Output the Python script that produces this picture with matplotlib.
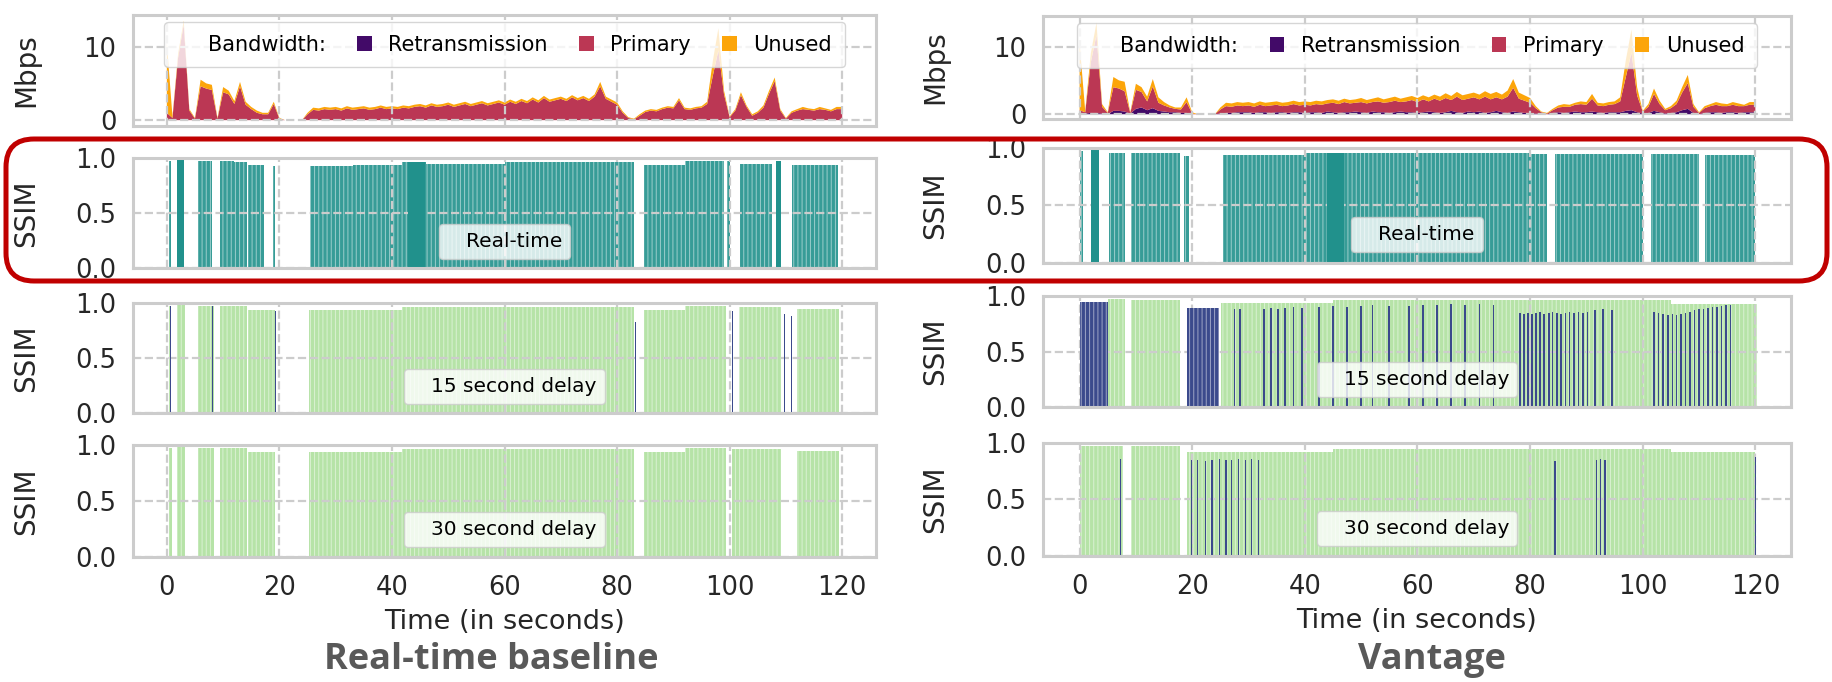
import matplotlib

matplotlib.use("Agg")
import matplotlib.pyplot as plt
import numpy as np
from matplotlib.colors import to_rgba
from matplotlib.patches import FancyBboxPatch, Patch

# ---- bandwidth traces, one value per second (t = 0 .. 120) ----
seconds = np.arange(0, 121)

capacity_mbps = [
    10.5, 0.5, 9.0, 13.5, 1.5, 0.3, 5.5, 5.0, 4.8, 0.3,
    4.5, 4.0, 2.6, 5.2, 2.5, 1.8, 1.3, 1.0, 1.0, 2.5,
    0.3, 0.0, 0.0, 0.0, 0.0, 1.0, 1.7, 1.6, 1.8, 1.7,
    1.8, 1.6, 1.9, 1.7, 1.8, 1.9, 1.7, 1.8, 2.0, 1.8,
    1.9, 1.8, 2.0, 1.9, 2.1, 2.2, 2.0, 2.3, 2.1, 2.2,
    2.4, 2.1, 2.3, 2.5, 2.2, 2.4, 2.6, 2.3, 2.5, 2.7,
    2.4, 2.8, 2.5, 2.9, 2.6, 3.1, 2.7, 3.3, 2.8, 3.0,
    3.2, 2.9, 3.4, 3.0, 3.3, 2.9, 3.5, 5.2, 3.2, 2.8,
    2.4, 1.2, 0.4, 0.2, 0.8, 1.3, 1.5, 1.4, 1.7, 1.9,
    1.8, 3.0, 1.7, 1.6, 1.8, 1.9, 2.5, 8.0, 12.5, 4.0,
    0.5, 1.5, 3.8, 2.0, 0.8, 1.2, 2.0, 4.0, 5.8, 1.5,
    0.3, 1.2, 1.5, 1.8, 1.6, 1.5, 1.8, 1.6, 1.4, 1.8,
    1.8,
]

baseline_primary_mbps = [
    1.0, 0.3, 8.5, 13.0, 1.3, 0.2, 4.6, 4.3, 4.1, 0.2,
    3.8, 3.5, 2.2, 4.6, 2.1, 1.5, 1.0, 0.8, 0.8, 2.2,
    0.2, 0.0, 0.0, 0.0, 0.0, 0.8, 1.4, 1.3, 1.5, 1.4,
    1.5, 1.3, 1.6, 1.4, 1.5, 1.6, 1.4, 1.5, 1.7, 1.5,
    1.6, 1.5, 1.7, 1.6, 1.8, 1.9, 1.7, 2.0, 1.8, 1.9,
    2.1, 1.8, 2.0, 2.2, 1.9, 2.1, 2.3, 2.0, 2.2, 2.4,
    2.1, 2.5, 2.2, 2.6, 2.3, 2.8, 2.4, 3.0, 2.5, 2.7,
    2.9, 2.6, 3.1, 2.7, 3.0, 2.6, 3.2, 4.6, 2.9, 2.5,
    2.1, 1.0, 0.3, 0.1, 0.6, 1.1, 1.3, 1.2, 1.5, 1.7,
    1.6, 2.7, 1.5, 1.4, 1.6, 1.7, 2.2, 6.0, 9.5, 3.5,
    0.4, 1.3, 3.4, 1.8, 0.6, 1.0, 1.7, 3.6, 5.3, 1.3,
    0.2, 1.0, 1.3, 1.5, 1.4, 1.3, 1.5, 1.4, 1.2, 1.5,
    1.5,
]

vantage_retrans_mbps = [
    0.1, 0.1, 0.2, 0.2, 0.1, 0.0, 0.5, 0.5, 0.4, 0.1,
    0.8, 1.0, 0.6, 0.9, 0.5, 0.4, 0.3, 0.3, 0.2, 0.2,
    0.0, 0.0, 0.0, 0.0, 0.0, 0.1, 0.2, 0.2, 0.3, 0.3,
    0.3, 0.2, 0.3, 0.3, 0.2, 0.3, 0.3, 0.2, 0.3, 0.3,
    0.2, 0.3, 0.3, 0.2, 0.4, 0.3, 0.2, 0.3, 0.3, 0.4,
    0.3, 0.2, 0.4, 0.3, 0.3, 0.2, 0.3, 0.4, 0.3, 0.3,
    0.2, 0.3, 0.4, 0.3, 0.2, 0.3, 0.5, 0.3, 0.2, 0.4,
    0.3, 0.4, 0.2, 0.3, 0.5, 0.3, 0.2, 0.4, 0.3, 0.2,
    0.2, 0.1, 0.0, 0.0, 0.2, 0.3, 0.2, 0.3, 0.4, 0.3,
    0.3, 0.4, 0.3, 0.2, 0.3, 0.3, 0.3, 0.5, 0.6, 0.3,
    0.1, 0.2, 0.5, 0.3, 0.1, 0.2, 0.3, 0.6, 0.8, 0.2,
    0.0, 0.2, 0.3, 0.3, 0.2, 0.3, 0.3, 0.2, 0.3, 0.3,
    0.3,
]

vantage_primary_mbps = [
    0.5, 0.2, 7.5, 11.5, 1.0, 0.2, 3.5, 3.3, 3.0, 0.1,
    2.8, 2.3, 1.3, 3.2, 1.2, 0.9, 0.7, 0.5, 0.5, 1.6,
    0.1, 0.0, 0.0, 0.0, 0.0, 0.6, 1.0, 0.9, 1.0, 0.9,
    1.0, 0.9, 1.1, 0.9, 1.1, 1.1, 0.9, 1.1, 1.2, 1.0,
    1.2, 1.0, 1.2, 1.2, 1.2, 1.4, 1.3, 1.5, 1.3, 1.3,
    1.5, 1.4, 1.4, 1.6, 1.4, 1.6, 1.7, 1.4, 1.6, 1.8,
    1.6, 1.9, 1.5, 2.0, 1.8, 2.1, 1.6, 2.3, 1.9, 1.9,
    2.2, 1.8, 2.4, 1.9, 2.0, 1.9, 2.4, 3.5, 2.0, 1.8,
    1.5, 0.8, 0.3, 0.1, 0.4, 0.7, 0.9, 0.8, 1.0, 1.2,
    1.1, 1.9, 1.0, 1.0, 1.1, 1.2, 1.6, 5.0, 8.5, 2.5,
    0.3, 0.9, 2.5, 1.2, 0.5, 0.7, 1.2, 2.6, 3.8, 0.9,
    0.2, 0.7, 0.9, 1.1, 1.0, 0.9, 1.1, 1.0, 0.9, 1.1,
    1.1,
]

BW_LABELS = ["Retransmission", "Primary", "Unused"]
BW_COLORS = ["#420a68", "#bb3754", "#fca50a"]

# ---- SSIM of displayed frames: runs of frames (start s, end s, SSIM) ----
base_rt_start = [0.3, 1.8, 5.5, 9.4, 12.0, 14.5, 18.9, 25.4, 33.0, 41.7, 46.0, 60.0, 72.0, 84.8, 92.0, 99.6, 101.9, 108.2, 111.0]
base_rt_end = [0.7, 3.1, 8.1, 12.0, 14.2, 17.3, 19.3, 33.0, 41.7, 46.0, 60.0, 72.0, 83.0, 92.0, 99.0, 100.0, 107.5, 109.2, 119.3]
base_rt_ssim = [0.97, 0.98, 0.97, 0.97, 0.96, 0.94, 0.93, 0.93, 0.94, 0.96, 0.95, 0.96, 0.96, 0.94, 0.97, 0.97, 0.95, 0.97, 0.94]
base_rt_dense_start = [1.8, 42.8, 108.2]
base_rt_dense_end = [3.1, 45.8, 109.2]
base_rt_dense_ssim = [0.98, 0.96, 0.97]

base_d15_start = [0.4, 1.8, 5.5, 9.4, 14.5, 25.2, 41.7, 60.0, 72.0, 84.8, 92.0, 101.7, 112.0]
base_d15_end = [0.8, 3.2, 8.3, 14.2, 19.3, 41.7, 60.0, 72.0, 83.0, 92.0, 99.3, 109.2, 119.4]
base_d15_ssim = [0.97, 0.98, 0.97, 0.97, 0.94, 0.94, 0.96, 0.96, 0.96, 0.94, 0.97, 0.96, 0.95]
base_d15_retx_time = [0.65, 8.1, 19.3, 83.3, 100.5, 109.7, 111.0]
base_d15_retx_ssim = [0.97, 0.97, 0.93, 0.83, 0.93, 0.90, 0.88]

base_d30_start = [0.4, 1.8, 5.5, 9.4, 14.5, 25.2, 41.7, 60.0, 72.0, 84.8, 92.0, 100.5, 112.0]
base_d30_end = [1.0, 3.2, 8.3, 14.2, 19.3, 41.7, 60.0, 72.0, 83.0, 92.0, 99.3, 109.2, 119.4]
base_d30_ssim = [0.97, 0.98, 0.97, 0.97, 0.94, 0.94, 0.96, 0.96, 0.96, 0.94, 0.97, 0.96, 0.95]

vant_rt_start = [0.1, 2.0, 5.2, 9.1, 18.5, 25.5, 40.0, 60.0, 80.0, 84.5, 101.5, 111.0]
vant_rt_end = [0.6, 3.5, 8.0, 17.8, 19.5, 40.0, 60.0, 80.0, 83.0, 100.0, 110.0, 120.0]
vant_rt_ssim = [0.97, 0.98, 0.96, 0.96, 0.93, 0.94, 0.96, 0.96, 0.95, 0.95, 0.95, 0.94]
vant_rt_dense_start = [2.0, 44.0]
vant_rt_dense_end = [3.5, 47.0]
vant_rt_dense_ssim = [0.98, 0.96]

vant_d15_start = [5.1, 9.1, 25.2, 45.0, 70.0, 90.0, 105.0]
vant_d15_end = [8.0, 17.8, 45.0, 70.0, 90.0, 105.0, 120.3]
vant_d15_ssim = [0.97, 0.96, 0.94, 0.96, 0.96, 0.96, 0.93]
vant_d15_retx_start = [0.1, 19.0]
vant_d15_retx_end = [5.1, 24.8]
vant_d15_retx_ssim = [0.95, 0.89]
vant_d15_retx_time = [
    27.5, 28.5, 32.8, 34.0, 35.2, 36.5, 38.0, 39.5, 42.5, 45.0, 47.5, 50.0, 52.0, 55.0,
    58.5, 61.0, 63.5, 66.0, 68.5, 71.0, 73.5,
    78.2, 78.9, 79.6, 80.3, 81.0, 81.8, 82.5, 83.3, 84.0, 84.8, 85.5, 86.3, 87.0, 87.8,
    88.6, 89.4, 90.2, 91.5, 93.0, 94.5,
    102.0, 102.8, 103.6, 104.5, 105.3, 106.0, 106.8, 107.6, 108.4, 109.2, 110.0, 110.8,
    111.6, 112.4, 113.2, 114.0, 114.8, 115.6,
]
vant_d15_retx_line_ssim = [
    0.88, 0.88, 0.88, 0.89, 0.88, 0.89, 0.90, 0.89, 0.90, 0.91, 0.90, 0.91, 0.92, 0.91,
    0.91, 0.92, 0.92, 0.93, 0.92, 0.93, 0.92,
    0.85, 0.84, 0.85, 0.84, 0.85, 0.86, 0.84, 0.85, 0.86, 0.85, 0.84, 0.85, 0.86, 0.85,
    0.86, 0.85, 0.86, 0.87, 0.88, 0.87,
    0.86, 0.85, 0.84, 0.83, 0.84, 0.83, 0.84, 0.85, 0.86, 0.87, 0.88, 0.88,
    0.89, 0.90, 0.90, 0.91, 0.92, 0.92,
]

vant_d30_start = [0.1, 9.1, 19.0, 45.0, 70.0, 90.0, 105.0]
vant_d30_end = [7.7, 17.8, 45.0, 70.0, 90.0, 105.0, 120.0]
vant_d30_ssim = [0.97, 0.97, 0.92, 0.95, 0.95, 0.95, 0.92]
vant_d30_retx_time = [7.2, 19.9, 21.0, 22.3, 23.5, 24.8, 26.0, 27.0, 28.2, 29.5, 30.5, 31.8, 84.4, 91.8, 92.5, 93.3, 120.0]
vant_d30_retx_ssim = [0.86, 0.85, 0.85, 0.84, 0.85, 0.86, 0.85, 0.85, 0.86, 0.85, 0.86, 0.85, 0.84, 0.85, 0.86, 0.85, 0.88]

RT_COLOR = "#21918c"
DELAY_COLOR = "#a9df98"
RETX_COLOR = "#3b4a8c"
TICK_FS = 18.5
LABEL_FS = 20
BOX_FS = 14.5

plt.rcParams.update({
    "font.family": ["DejaVu Sans"],
    "axes.edgecolor": "#cccccc",
    "axes.linewidth": 2.2,
    "grid.color": "#cccccc",
    "grid.linestyle": "--",
    "grid.linewidth": 1.6,
    "xtick.major.size": 0,
    "ytick.major.size": 0,
    "xtick.major.pad": 13,
    "ytick.major.pad": 12,
    "xtick.color": "#262626",
    "ytick.color": "#262626",
    "axes.labelcolor": "#262626",
    "hatch.linewidth": 0.7,
})


def style_axes(ax, xlim, bottom):
    ax.set_xlim(*xlim)
    ax.set_xticks(np.arange(0, 121, 20))
    ax.grid(True)
    ax.set_axisbelow(False)
    ax.tick_params(labelsize=TICK_FS, labelbottom=bottom)
    for sp in ax.spines.values():
        sp.set_zorder(5)
    if bottom:
        ax.set_xlabel("Time (in seconds)", fontsize=LABEL_FS - 0.5, labelpad=6)


def draw_bandwidth(ax, retrans, primary, ylim, xlim):
    retrans = np.asarray(retrans, dtype=float)
    primary = np.asarray(primary, dtype=float)
    unused = np.clip(np.asarray(capacity_mbps) - retrans - primary, 0, None)
    ax.stackplot(seconds, retrans, primary, unused, colors=BW_COLORS, linewidth=0, zorder=1)
    ax.set_ylim(*ylim)
    ax.set_yticks([0, 10])
    ax.set_ylabel("Mbps", fontsize=LABEL_FS)
    ax.yaxis.set_label_coords(-0.125, 0.5)
    handles = [Patch(facecolor="none", edgecolor="none")] + [Patch(facecolor=c) for c in BW_COLORS]
    leg = ax.legend(handles, ["Bandwidth:"] + BW_LABELS, loc="upper center", ncol=4,
                    fontsize=15, handlelength=0.7, handleheight=0.7, handletextpad=0.8,
                    columnspacing=1.5, borderpad=0.6, borderaxespad=0.35, framealpha=0.8,
                    edgecolor="#cccccc", fancybox=True)
    leg.set_zorder(6)
    style_axes(ax, xlim, False)


def ssim_bars(ax, start, end, ssim, color, alpha, zorder, hatch="||||"):
    start = np.asarray(start)
    width = np.asarray(end) - start
    ax.bar(start, ssim, width=width, align="edge", color=to_rgba(color, alpha),
           edgecolor=(1, 1, 1, 0.5), linewidth=0, hatch=hatch, zorder=zorder)


def ssim_lines(ax, times, ssim, color, width=0.22):
    ax.bar(times, ssim, width=width, color=color, linewidth=0, zorder=3)


def finish_ssim(ax, label, xlim, bottom):
    ax.set_ylim(0, 1)
    ax.set_yticks([0, 0.5, 1.0])
    ax.set_yticklabels(["0.0", "0.5", "1.0"])
    ax.set_ylabel("SSIM", fontsize=LABEL_FS)
    ax.yaxis.set_label_coords(-0.125, 0.5)
    leg = ax.legend([Patch(facecolor="none", edgecolor="none")], [label], loc="center",
                    bbox_to_anchor=(0.5, 0.245), fontsize=BOX_FS, handlelength=0.5,
                    handletextpad=0.45, framealpha=0.8, edgecolor="#cccccc", fancybox=True)
    leg.set_zorder(6)
    style_axes(ax, xlim, bottom)


fig = plt.figure(figsize=(18.33, 6.82), dpi=100)

# (left, width) and per-row (bottom, height) in figure fractions
left_col = (0.0726, 0.4053, [(0.8152, 0.1628), (0.6070, 0.1613), (0.3944, 0.1613), (0.1833, 0.1642)])
right_col = (0.569, 0.408, [(0.8255, 0.1510), (0.6144, 0.1686), (0.4032, 0.1628), (0.1848, 0.1657)])
axes = []
for x0, w, rows in (left_col, right_col):
    axes.append([fig.add_axes([x0, y0, w, h]) for (y0, h) in rows])

# Real-time baseline (left column)
xl = (-6, 126)
ax_bw, ax_rt, ax_15, ax_30 = axes[0]
draw_bandwidth(ax_bw, np.zeros(len(seconds)), baseline_primary_mbps, (-0.8, 14.3), xl)
ssim_bars(ax_rt, base_rt_start, base_rt_end, base_rt_ssim, RT_COLOR, 0.9, 2)
ssim_bars(ax_rt, base_rt_dense_start, base_rt_dense_end, base_rt_dense_ssim, RT_COLOR, 1.0, 3, hatch=None)
finish_ssim(ax_rt, "Real-time", xl, False)
ssim_bars(ax_15, base_d15_start, base_d15_end, base_d15_ssim, DELAY_COLOR, 0.85, 2)
ssim_lines(ax_15, base_d15_retx_time, base_d15_retx_ssim, RETX_COLOR)
finish_ssim(ax_15, "15 second delay", xl, False)
ssim_bars(ax_30, base_d30_start, base_d30_end, base_d30_ssim, DELAY_COLOR, 0.85, 2)
finish_ssim(ax_30, "30 second delay", xl, True)

# Vantage (right column)
xr = (-6.5, 126.3)
ax_bw, ax_rt, ax_15, ax_30 = axes[1]
draw_bandwidth(ax_bw, vantage_retrans_mbps, vantage_primary_mbps, (-0.7, 14.5), xr)
ssim_bars(ax_rt, vant_rt_start, vant_rt_end, vant_rt_ssim, RT_COLOR, 0.9, 2)
ssim_bars(ax_rt, vant_rt_dense_start, vant_rt_dense_end, vant_rt_dense_ssim, RT_COLOR, 1.0, 3, hatch=None)
finish_ssim(ax_rt, "Real-time", xr, False)
ssim_bars(ax_15, vant_d15_start, vant_d15_end, vant_d15_ssim, DELAY_COLOR, 0.85, 2)
ssim_bars(ax_15, vant_d15_retx_start, vant_d15_retx_end, vant_d15_retx_ssim, RETX_COLOR, 1.0, 3)
ssim_lines(ax_15, vant_d15_retx_time, vant_d15_retx_line_ssim, RETX_COLOR, width=0.3)
finish_ssim(ax_15, "15 second delay", xr, False)
ssim_bars(ax_30, vant_d30_start, vant_d30_end, vant_d30_ssim, DELAY_COLOR, 0.85, 2)
ssim_lines(ax_30, vant_d30_retx_time, vant_d30_retx_ssim, RETX_COLOR)
finish_ssim(ax_30, "30 second delay", xr, True)

title_font = dict(family=["Open Sans", "DejaVu Sans"], fontweight="bold", fontsize=26, color="#595959")
fig.text(0.268, 0.032, "Real-time baseline", ha="center", va="center", **title_font)
fig.text(0.781, 0.032, "Vantage", ha="center", va="center", **title_font)

# red highlight around the real-time row
highlight = FancyBboxPatch((0.06, 4.01), 18.21, 1.42, boxstyle="round,pad=0,rounding_size=0.28",
                           transform=fig.dpi_scale_trans, facecolor="none", edgecolor="#c00000",
                           linewidth=3.6, zorder=20)
fig.add_artist(highlight)

fig.savefig("out.png", dpi=100)
